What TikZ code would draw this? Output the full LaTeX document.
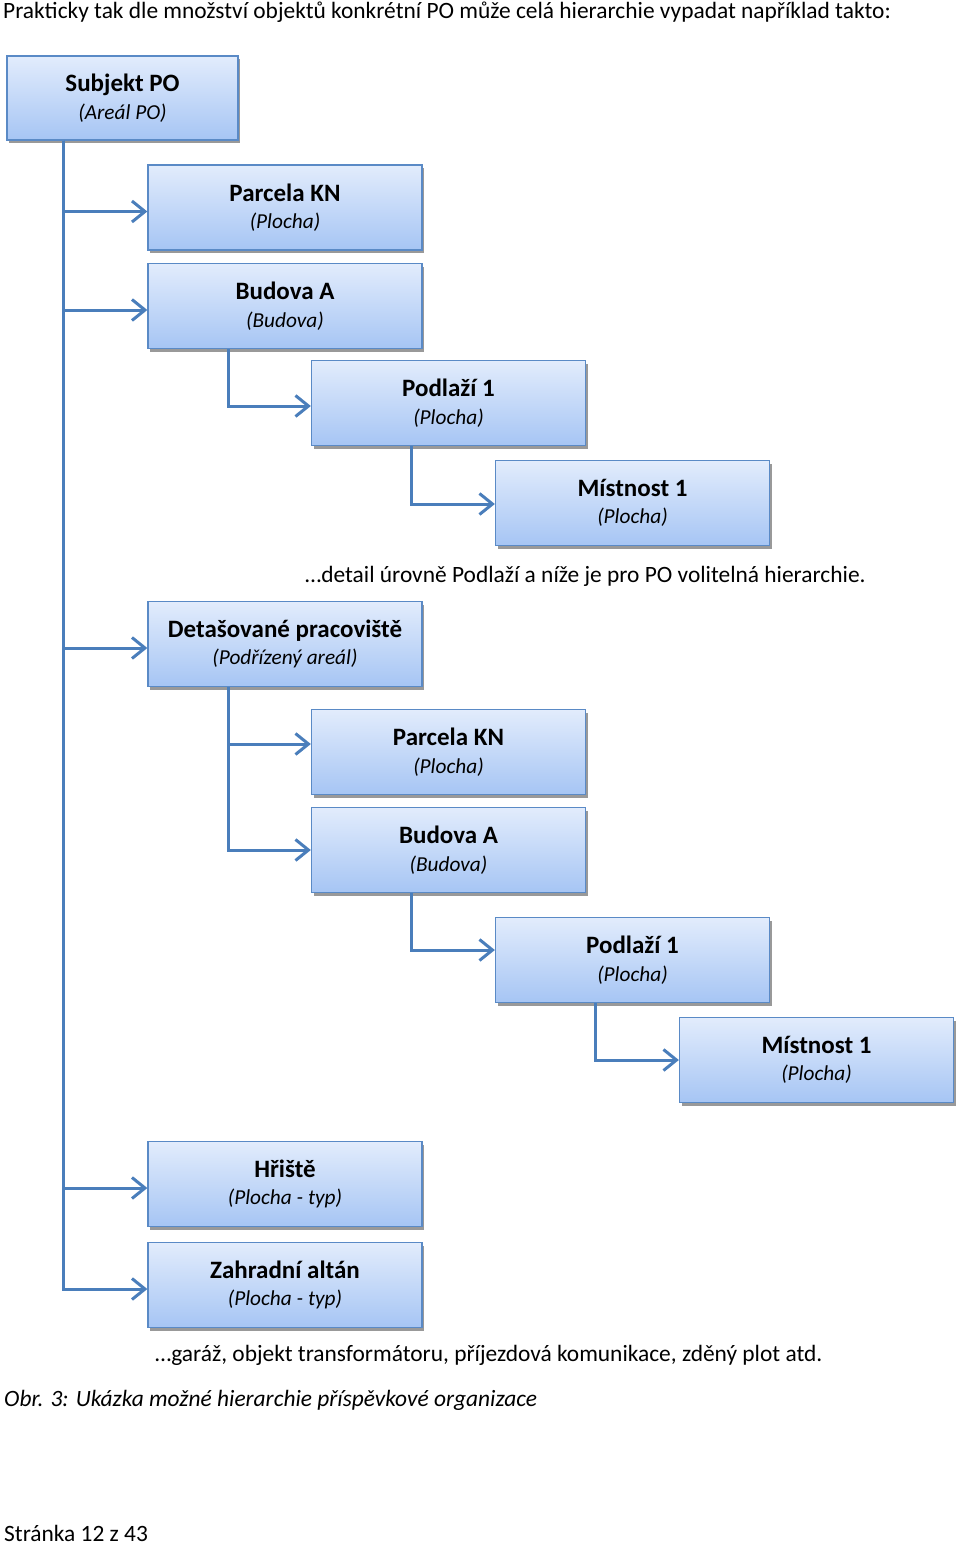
\documentclass[tikz,border=0pt]{standalone}
\usepackage{fontspec}
\setmainfont{Carlito}
\usetikzlibrary{arrows.meta,shadows,calc}
\definecolor{lineblue}{HTML}{4A7EBB}
\definecolor{boxborder}{HTML}{5A8AC6}
\definecolor{boxtop}{HTML}{E2ECFC}
\definecolor{boxbot}{HTML}{A6C5F4}
\newcommand{\bt}[2]{{\fontsize{25}{28}\selectfont\bfseries #1}\\{\itshape #2}}
\begin{document}
\begin{tikzpicture}[x=1pt,y=-1pt,
  box/.style={draw=boxborder, line width=1.3pt, top color=boxtop, bottom color=boxbot,
    minimum width=274pt, minimum height=85pt, align=center, inner sep=0pt,
    font=\fontsize{21.3}{27.5}\selectfont,
    drop shadow={shadow xshift=2pt, shadow yshift=-3pt, fill=black!40, opacity=1}},
  conn/.style={draw=lineblue, line width=3pt, -{Straight Barb[length=13pt,width=21pt,line width=3pt]}},
  plain/.style={font=\fontsize{23.4}{26}\selectfont, inner sep=0pt}]
\useasboundingbox (0,0) rectangle (960,1544);
\fill[white] (0,0) rectangle (960,1544);
\node[plain, anchor=west] (hdr) at (3,12) {Prakticky tak dle množství objektů konkrétní PO může celá hierarchie vypadat například takto:};
\node[box, minimum width=231pt, minimum height=84pt] (sub) at (122.5,98) {\bt{Subjekt PO}{(Areál PO)}};
\node[box] (p1) at (285,207.5) {\bt{Parcela KN}{(Plocha)}};
\node[box] (b1) at (285,306) {\bt{Budova A}{(Budova)}};
\node[box] (pod1) at (448.5,403) {\bt{Podlaží 1}{(Plocha)}};
\node[box] (m1) at (632.5,503) {\bt{Místnost 1}{(Plocha)}};
\node[plain, anchor=west] (note1) at (305,576) {…detail úrovně Podlaží a níže je pro PO volitelná hierarchie.};
\node[box] (det) at (285,644) {\bt{Detašované pracoviště}{(Podřízený areál)}};
\node[box] (p2) at (448.5,752) {\bt{Parcela KN}{(Plocha)}};
\node[box] (b2) at (448.5,850) {\bt{Budova A}{(Budova)}};
\node[box] (pod2) at (632.5,960) {\bt{Podlaží 1}{(Plocha)}};
\node[box] (m2) at (816.5,1060) {\bt{Místnost 1}{(Plocha)}};
\node[box] (h) at (285,1184) {\bt{Hřiště}{(Plocha - typ)}};
\node[box] (z) at (285,1285) {\bt{Zahradní altán}{(Plocha - typ)}};
\node[plain, anchor=west] (note2) at (155,1355) {…garáž, objekt transformátoru, příjezdová komunikace, zděný plot atd.};
\node[plain, anchor=west] (cap) at (4,1400) {\textit{Obr. 3: Ukázka možné hierarchie příspěvkové organizace}};
\node[plain, anchor=west] (page) at (4,1533) {Stránka 12 z 43};
% connectors
\coordinate (t0) at ($(sub.south west)+(57,0)$);
\foreach \c in {p1,b1,det,h,z} \draw[conn] (t0) |- ($(\c.west)+(0,4)$);
\coordinate (t1) at ($(b1.south west)+(81,0)$);
\draw[conn] (t1) |- ($(pod1.west)+(0,3)$);
\coordinate (t2) at ($(pod1.south west)+(101,0)$);
\draw[conn] (t2) |- ($(m1.west)+(0,1)$);
\coordinate (t3) at ($(det.south west)+(81,0)$);
\draw[conn] (t3) |- ($(p2.west)+(0,-8)$);
\draw[conn] (t3) |- (b2.west);
\coordinate (t4) at ($(b2.south west)+(101,0)$);
\draw[conn] (t4) |- ($(pod2.west)+(0,-10)$);
\coordinate (t5) at ($(pod2.south west)+(101,0)$);
\draw[conn] (t5) |- (m2.west);
\end{tikzpicture}
\end{document}
